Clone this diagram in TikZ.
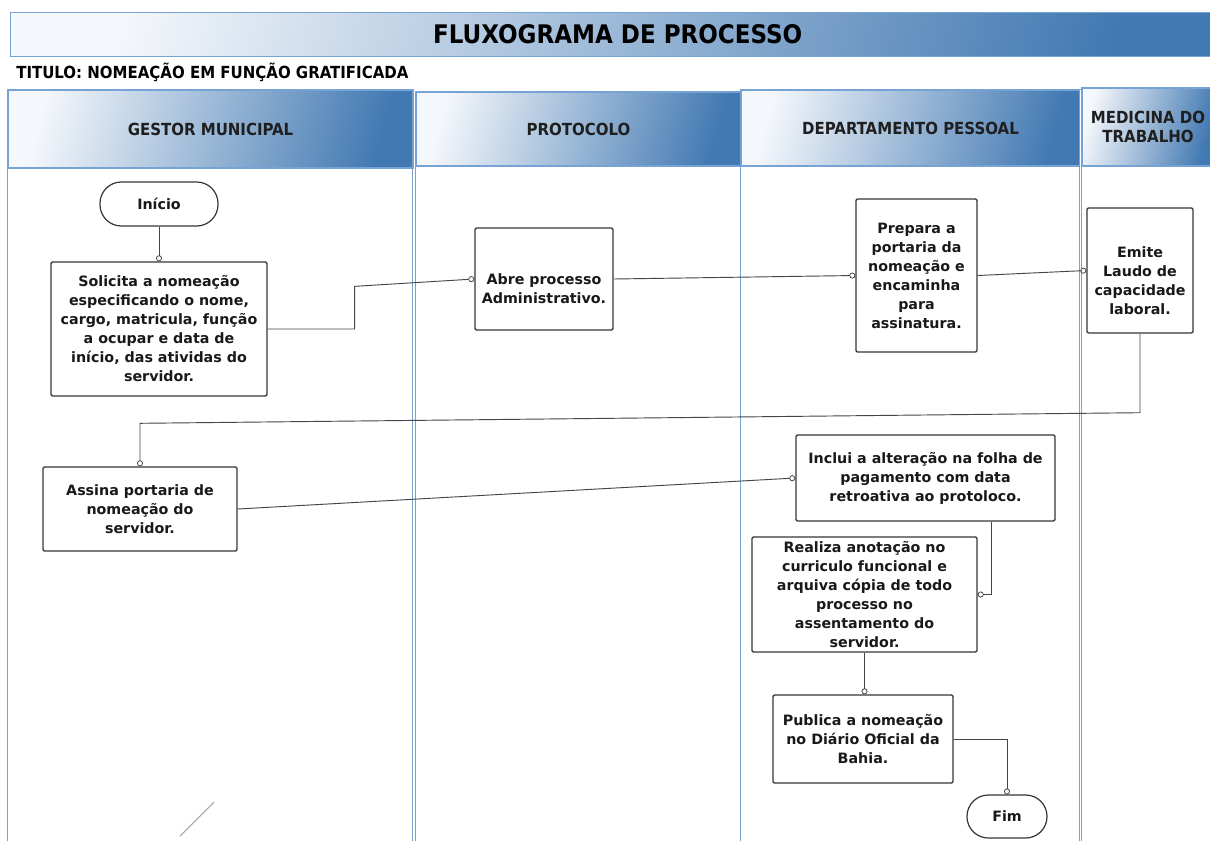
\documentclass[tikz,border=0pt]{standalone}
\usepackage{fontspec}
\setmainfont{DejaVu Sans}
\newfontfamily\condfont{DejaVu Sans Condensed}
\usetikzlibrary{arrows.meta}
\newlength\pxu
\setlength\pxu{0.75pt}
\definecolor{laneblue}{RGB}{118,163,212}
\definecolor{shadedark}{RGB}{66,121,178}
\definecolor{shadelight}{RGB}{244,247,251}
\definecolor{linegray}{RGB}{55,55,55}
\definecolor{conngray}{RGB}{70,70,70}

\begin{document}
\begin{tikzpicture}[x=0.75pt,y=-0.75pt,
  boxtext/.style={font=\bfseries\fontsize{10.7}{14.25}\selectfont, align=center, text=black!90},
  stepbox/.style={draw=linegray, line width=1.05pt, rounded corners=1pt, fill=white, boxtext},
  terminal/.style={draw=linegray, line width=0.9pt, rounded corners=16pt, fill=white, boxtext},
  conn/.style={draw=conngray, line width=0.7pt,
    -{Circle[open, length=4.5pt, width=4.5pt, line width=0.6pt]}},
  lanebody/.style={draw=laneblue, line width=0.6pt, double=white, double distance=0.7pt},
  headbar/.style={draw=laneblue, line width=1pt, left color=shadelight,
    right color=shadedark, shading angle=75, inner sep=0pt},
  headtxt/.style={font=\condfont\bfseries\fontsize{12.5}{14.5}\selectfont, align=center, text=black!88}
]
\useasboundingbox (0,0) rectangle (1210,840);
\clip (0,0) rectangle (1210,840);
\fill[white] (0,0) rectangle (1210,840);

% title bar and subtitle
\node[headbar, anchor=north west, minimum width=1214\pxu, minimum height=44\pxu,
      font=\condfont\bfseries\fontsize{19.2}{22}\selectfont, text=black] (title) at (10,12)
  {FLUXOGRAMA DE PROCESSO};
\node[anchor=west, inner sep=0pt, font=\condfont\bfseries\fontsize{12.5}{15}\selectfont] (subtitle) at (16,72)
  {TITULO: NOMEAÇÃO EM FUNÇÃO GRATIFICADA};

% swimlane bodies
\draw[lanebody] (8,90) rectangle (413,850);
\draw[lanebody] (416,92) rectangle (741,850);
\draw[lanebody] (741,90) rectangle (1080,850);
\draw[lanebody] (1082,88) rectangle (1225,850);

% swimlane headers
\node[headbar, headtxt, minimum width=405\pxu, minimum height=78\pxu] (lane1) at (210.5,129) {GESTOR MUNICIPAL};
\node[headbar, headtxt, minimum width=325\pxu, minimum height=74\pxu] (lane2) at (578.5,129) {PROTOCOLO};
\node[headbar, headtxt, minimum width=338\pxu, minimum height=76\pxu] (lane3) at (910.5,128) {DEPARTAMENTO PESSOAL};
\node[headbar, headtxt, minimum width=132\pxu, minimum height=78\pxu] (lane4) at (1148,127) {MEDICINA DO\\TRABALHO};

% process steps
\node[terminal, minimum width=118\pxu, minimum height=44\pxu] (inicio) at (159,204) {Início};
\node[stepbox, minimum width=216\pxu, minimum height=134\pxu] (sol) at (159,329)
  {Solicita a nomeação\\especificando o nome,\\cargo, matricula, função\\a ocupar e data de\\início, das atividas do\\servidor.};
\node[stepbox, minimum width=138\pxu, minimum height=102\pxu,
      label={[boxtext, yshift=-7.5pt]center:Abre processo\\Administrativo.}] (abre) at (544,279) {};
\node[stepbox, minimum width=121\pxu, minimum height=153\pxu] (prep) at (916.5,275.5)
  {Prepara a\\portaria da\\nomeação e\\encaminha\\para\\assinatura.};
\node[stepbox, minimum width=106\pxu, minimum height=125\pxu,
      label={[boxtext, yshift=-7.5pt]center:Emite\\Laudo de\\capacidade\\laboral.}] (emite) at (1140,270.5) {};
\node[stepbox, minimum width=194\pxu, minimum height=84\pxu] (assina) at (140,509)
  {Assina portaria de\\nomeação do\\servidor.};
\node[stepbox, minimum width=259\pxu, minimum height=86\pxu] (inclui) at (925.5,478)
  {Inclui a alteração na folha de\\pagamento com data\\retroativa ao protoloco.};
\node[stepbox, minimum width=225\pxu, minimum height=115\pxu, inner sep=1pt] (realiza) at (864.5,594.5)
  {Realiza anotação no\\curriculo funcional e\\arquiva cópia de todo\\processo no\\assentamento do\\servidor.};
\node[stepbox, minimum width=180\pxu, minimum height=88\pxu] (publica) at (863,739)
  {Publica a nomeação\\no Diário Oficial da\\Bahia.};
\node[terminal, minimum width=80\pxu, minimum height=43\pxu] (fim) at (1007,816.5) {Fim};

% connectors
\draw[conn] (inicio.south) -- (sol.north);
\draw[conn] (sol.east) -- ++(65.25pt,0) -- ++(0,32pt) -- (abre.west);
\draw[conn] (abre.east) -- (prep.west);
\draw[conn] (prep.east) -- (emite.west);
\draw[conn] (emite.south) -- ++(0,-59.25pt) -- ([yshift=32.25pt]assina.north) -- (assina.north);
\draw[conn] (assina.east) -- (inclui.west);
\draw[conn] ([xshift=-48pt]inclui.south east) |- (realiza.east);
\draw[conn] (realiza.south) -- (realiza.south |- publica.north);
\draw[conn] (publica.east) -| (fim.north);

% loose stroke in the first lane
\draw[gray!70, line width=0.8pt] (180,836) -- (214,802);
\end{tikzpicture}
\end{document}
